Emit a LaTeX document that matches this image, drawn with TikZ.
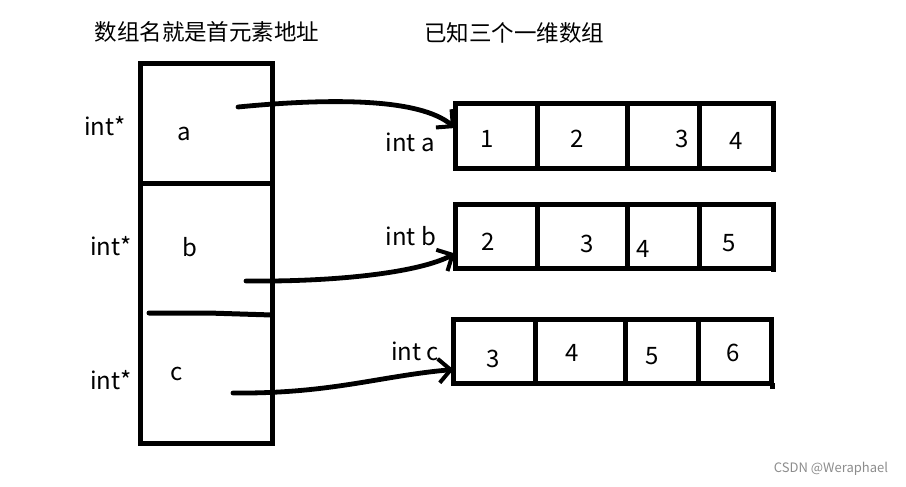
\documentclass[tikz,border=0pt]{standalone}
\usepackage{fontspec}
\setmainfont{Noto Sans CJK SC}
\usetikzlibrary{arrows.meta}
\tikzset{
  lbl/.style={font=\fontsize{24}{28}\selectfont},
  ttl/.style={font=\fontsize{22.5}{26}\selectfont},
  cellrow/.style={draw, line width=5pt, minimum width=318pt, minimum height=64pt, outer sep=0pt, inner sep=0pt},
  arr/.style={line width=4.8pt, line cap=round, -{Straight Barb[length=12pt,width=24pt,line width=4pt]}}
}
\begin{document}
\begin{tikzpicture}[x=1pt,y=-1pt]
    \useasboundingbox (0,0) rectangle (906,487);

    % titles
    \node[ttl] (tleft) at (207,32) {数组名就是首元素地址};
    \node[ttl] (tright) at (514,33) {已知三个一维数组};

    % pointer array
    \draw[line width=5pt] (140,64) rectangle (272,443);
    \draw[line width=5pt] (140,183) -- (272,183);
    \draw[line width=5pt, line cap=round] (149,313) -- (208,313) -- (272,315);
    \node[lbl] (pa) at (184,134) {a};
    \node[lbl] (pb) at (190,247) {b};
    \node[lbl] (pc) at (177,374) {c};
    \node[lbl] (ta) at (105,126) {int*};
    \node[lbl] (tb) at (111,246) {int*};
    \node[lbl] (tc) at (111,380) {int*};

    % three arrays
    \node[cellrow] (arrA) at (614,136) {};
    \node[cellrow] (arrB) at (614,236.5) {};
    \node[cellrow] (arrC) at (612.5,351.5) {};
    \foreach \x in {537,627,699} {
        \draw[line width=5pt] (\x,104) -- (\x,170);
        \draw[line width=5pt] (\x,205) -- (\x,271);
    }
    \draw[line width=5pt] (773,168) -- (773,172);
    \draw[line width=5pt] (773,268) -- (773,272);
    \foreach \x in {535,625,698} {
        \draw[line width=5pt] (\x,320) -- (\x,386);
    }
    \draw[line width=5pt] (772,383) -- (772,389);

    \node[lbl] (a1) at (487,139) {1};
    \node[lbl] (a2) at (577,139) {2};
    \node[lbl] (a3) at (682,139) {3};
    \node[lbl] (a4) at (736,141) {4};
    \node[lbl] (b1) at (488,242) {2};
    \node[lbl] (b2) at (587,244) {3};
    \node[lbl] (b3) at (643,249) {4};
    \node[lbl] (b4) at (729,243) {5};
    \node[lbl] (c1) at (493,359) {3};
    \node[lbl] (c2) at (572,353) {4};
    \node[lbl] (c3) at (652,356) {5};
    \node[lbl] (c4) at (733,353) {6};

    \node[lbl] (la) at (410,142) {int a};
    \node[lbl] (lb) at (411,236) {int b};
    \node[lbl] (lc) at (415,351) {int c};

    % pointers
    \coordinate (sa) at (238,107);
    \coordinate (sb) at (246,281);
    \coordinate (sc) at (233,393);
    \draw[arr] (sa) .. controls (330,98) and (420,98) .. ([yshift=8pt]arrA.west);
    \draw[arr] (sb) .. controls (340,282) and (420,272) .. ([yshift=15pt]arrB.south west);
    \draw[arr] (sc) .. controls (330,394) and (380,376) .. ([yshift=14pt]arrC.south west);

    \node[font=\fontsize{13}{15}\selectfont, text=black!45] (mark) at (831,469) {CSDN @Weraphael};
\end{tikzpicture}
\end{document}
